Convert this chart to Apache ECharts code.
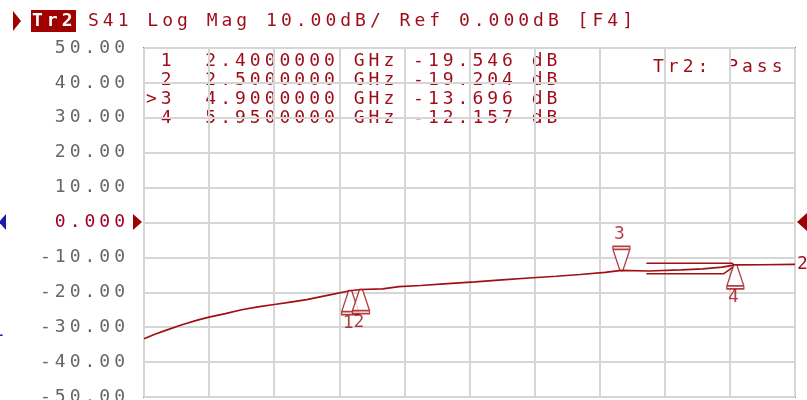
<!DOCTYPE html>
<html><head><meta charset="utf-8">
<script src="https://cdn.jsdelivr.net/npm/echarts@6/dist/echarts.min.js"></script>
<style>html,body{margin:0;padding:0;background:#fff}#c{width:807px;height:400px}</style>
</head><body><div id="c"></div>
<script>
// ---------------- data ----------------
const freqGHz = [0.50, 0.60, 0.70, 0.85, 1.00, 1.10, 1.25, 1.40, 1.55, 1.70, 1.85, 2.00, 2.20, 2.40, 2.50, 2.70, 2.85, 3.05, 3.30, 3.55, 3.80, 4.05, 4.30, 4.52, 4.75, 4.90, 5.15, 5.45, 5.65, 5.83, 5.95, 6.20, 6.50];
const s41dB   = [-33.3, -32.0, -30.9, -29.3, -27.9, -27.1, -26.1, -25.0, -24.2, -23.5, -22.8, -22.1, -20.8, -19.55, -19.2, -19.0, -18.4, -18.05, -17.5, -17.0, -16.45, -15.9, -15.4, -14.9, -14.3, -13.7, -13.9, -13.6, -13.3, -12.8, -12.16, -12.1, -12.0];
const ghostAFreq = [5.13, 5.92, 5.95];
const ghostADB   = [-11.66, -11.66, -12.5];
const ghostBFreq = [5.13, 5.84, 5.93];
const ghostBDB   = [-14.7, -14.7, -12.8];
const markerNames = ['1', '2', '3', '4'];
const markerFreq  = [2.4, 2.5, 4.9, 5.95];
const markerDB    = [-19.546, -19.204, -13.696, -12.157];
const activeMarker = 2;
const yTicks = [-50, -40, -30, -20, -10, 0, 10, 20, 30, 40, 50];
const headerText = 'S41 Log Mag 10.00dB/ Ref 0.000dB [F4]';
const traceName = 'Tr2';
const limitText = 'Tr2: Pass';
const freqRange = [0.5, 6.5];

// ------------- text spacing (instrument-style fixed pitch) -------------
(function () {
  const P = CanvasRenderingContext2D.prototype;
  if (!('letterSpacing' in P)) return;
  const LS = '4px';
  const f = P.fillText, m = P.measureText;
  P.fillText = function () { const o = this.letterSpacing; this.letterSpacing = LS; const r = f.apply(this, arguments); this.letterSpacing = o; return r; };
  P.measureText = function () { const o = this.letterSpacing; this.letterSpacing = LS; const r = m.apply(this, arguments); this.letterSpacing = o; return r; };
})();

const TRACE = '#a00f14';
const TXT = '#9e0c18';
const FONT = 'DejaVu Sans Mono';

const chart = echarts.init(document.getElementById('c'), null, { renderer: 'canvas' });

const traceData = freqGHz.map((f, i) => [f, s41dB[i]]);
const ghostA = ghostAFreq.map((f, i) => [f, ghostADB[i]]);
const ghostB = ghostBFreq.map((f, i) => [f, ghostBDB[i]]);
const upMarkers = [], downMarkers = [];
markerNames.forEach((n, i) => {
  const item = { name: n, value: [markerFreq[i], markerDB[i]] };
  (i === activeMarker ? downMarkers : upMarkers).push(item);
});

const rows = markerNames.map((n, i) =>
  (i === activeMarker ? '>' : ' ') + n + '  ' + markerFreq[i].toFixed(7) + ' GHz ' + markerDB[i].toFixed(3) + ' dB');
const rowY = [61, 80, 99, 118];

const graphic = [
  { type: 'polygon', shape: { points: [[13, 11], [21, 21], [13, 31]] }, style: { fill: '#a00000' } },
  { type: 'rect', shape: { x: 31, y: 10, width: 45, height: 22 }, style: { fill: '#a00000' } },
  { type: 'text', style: { text: traceName, x: 32, y: 21, fill: '#ffffff', font: 'bold 18px ' + FONT, verticalAlign: 'middle' } },
  { type: 'text', style: { text: headerText, x: 88, y: 21, fill: TXT, font: '18px ' + FONT, verticalAlign: 'middle' } },
  { type: 'text', style: { text: limitText, x: 653, y: 67, fill: TXT, font: '18px ' + FONT, verticalAlign: 'middle' } },
  { type: 'polygon', shape: { points: [[133, 214], [142, 222], [133, 230]] }, style: { fill: '#a00000' } },
  { type: 'polygon', shape: { points: [[797, 222], [807, 213], [807, 231]] }, style: { fill: '#a00000' } },
  { type: 'polygon', shape: { points: [[-1, 222], [6, 214], [6, 230]] }, style: { fill: '#1c1ca8' } },
  { type: 'text', style: { text: '1', x: -7, y: 331, fill: '#1c1ca8', font: '18px ' + FONT, verticalAlign: 'middle' } },
  { type: 'text', style: { text: '2', x: 797, y: 264, fill: TXT, font: '18px ' + FONT, verticalAlign: 'middle' } }
].concat(rows.map((r, i) => ({
  type: 'text', style: { text: r, x: 146, y: rowY[i], fill: TXT, font: '18px ' + FONT, verticalAlign: 'middle' }
})));

const option = {
  animation: false,
  backgroundColor: '#ffffff',
  grid: { left: 144, right: 12, top: 48, bottom: 3, containLabel: false, outerBoundsMode: 'none',
          show: true, borderColor: '#858585', borderWidth: 2, backgroundColor: 'transparent' },
  xAxis: [
    { type: 'value', min: freqRange[0], max: freqRange[1], show: false },
    { type: 'value', min: 0, max: 10, interval: 1, position: 'bottom',
      axisLabel: { show: false }, axisLine: { show: false }, axisTick: { show: false },
      splitLine: { show: true, lineStyle: { color: '#d6d6d6', width: 2 } } }
  ],
  yAxis: {
    type: 'value', min: yTicks[0], max: yTicks[yTicks.length - 1], interval: 10,
    axisLine: { show: false }, axisTick: { show: false },
    splitLine: { show: true, lineStyle: { color: '#d6d6d6', width: 2 } },
    axisLabel: {
      margin: 15, fontFamily: FONT, fontSize: 18, color: '#666666',
      formatter: v => v === 0 ? '{r|0.000}' : v.toFixed(2),
      rich: { r: { color: '#a0002a', fontFamily: FONT, fontSize: 18 } }
    }
  },
  series: [
    { type: 'line', xAxisIndex: 0, data: traceData, showSymbol: false, lineStyle: { color: TRACE, width: 1.7 }, silent: true, z: 3 },
    { type: 'line', xAxisIndex: 0, data: ghostA, showSymbol: false, lineStyle: { color: TRACE, width: 1.5 }, silent: true, z: 3 },
    { type: 'line', xAxisIndex: 0, data: ghostB, showSymbol: false, lineStyle: { color: TRACE, width: 1.5 }, silent: true, z: 3 },
    { type: 'scatter', xAxisIndex: 0, data: upMarkers, z: 5, silent: true,
      symbol: 'path://M7,0L10,0L17,21L17,24L0,24L0,21ZM0,21L17,21', symbolSize: [17, 24], symbolOffset: [0, 12],
      itemStyle: { color: '#ffffff', borderColor: TRACE, borderWidth: 1.5 },
      label: { show: true, position: 'bottom', distance: 0, formatter: '{b}', color: TXT, fontFamily: FONT, fontSize: 18, lineHeight: 16 } },
    { type: 'scatter', xAxisIndex: 0, data: downMarkers, z: 5, silent: true,
      symbol: 'path://M0,0L17,0L17,3L10,24L7,24L0,3ZM0,3L17,3', symbolSize: [17, 24], symbolOffset: [0, -12],
      itemStyle: { color: '#ffffff', borderColor: TRACE, borderWidth: 1.5 },
      label: { show: true, position: 'top', distance: 3, formatter: '{b}', color: TXT, fontFamily: FONT, fontSize: 18, lineHeight: 16 } }
  ],
  graphic: graphic
};
chart.setOption(option);
</script>
</body></html>
